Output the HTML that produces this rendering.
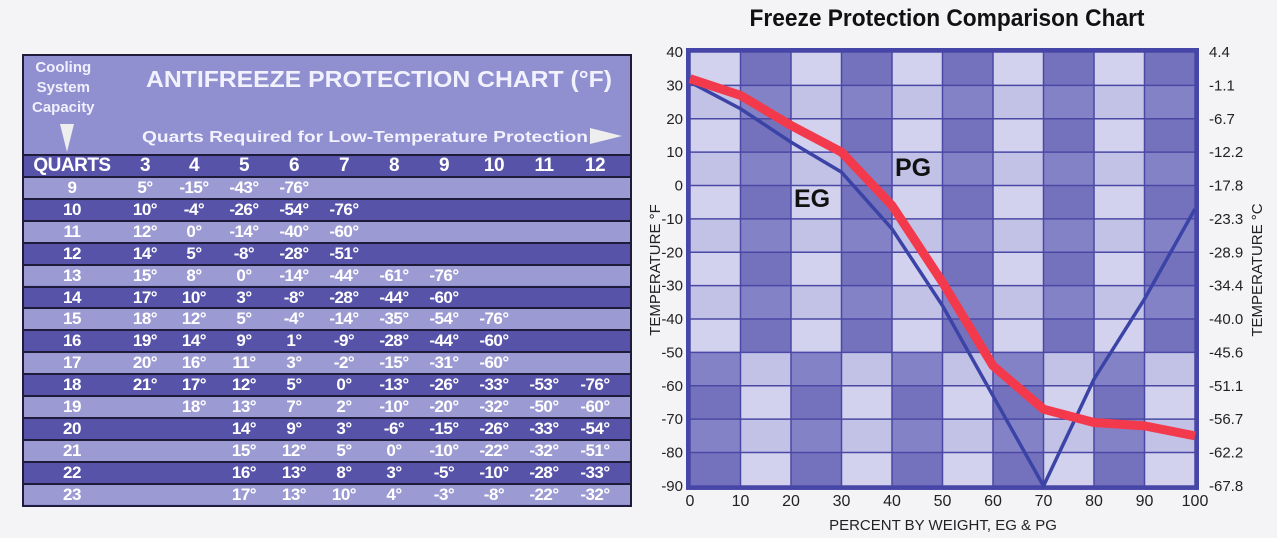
<!DOCTYPE html>
<html><head><meta charset="utf-8"><style>
body{margin:0;width:1277px;height:538px;background:#f4f4f7;overflow:hidden;position:relative;font-family:"Liberation Sans",sans-serif}
#tbl{position:absolute;left:22px;top:54px;width:610px;height:453px;border:2px solid #1e1c3a;background:#908fcf;box-sizing:border-box}
.t{position:absolute;color:#fff;font-weight:bold;white-space:nowrap}
.row{position:absolute;left:0;width:606px;height:20px;border-top:2px solid #1e1c3a}
.cell{position:absolute;top:0;line-height:21px;color:#fff;font-weight:bold;font-size:17px;text-align:center;width:50px;letter-spacing:-0.5px}
</style></head><body>
<div id="tbl">
  <div class="t" style="left:8px;top:2px;font-size:15px;line-height:20px;text-align:center;color:#f0f0ff">Cooling<br>System<br>Capacity</div>
  <div class="t" style="left:36px;top:68px;width:0;height:0;border-left:7px solid transparent;border-right:7px solid transparent;border-top:28px solid #eee"></div>
  <svg class="t" style="left:0;top:0" width="606" height="96">
    <text x="122" y="31" font-size="23" font-weight="bold" fill="#f2f2ff" textLength="466" lengthAdjust="spacingAndGlyphs">ANTIFREEZE PROTECTION CHART (°F)</text>
    <text x="118" y="86" font-size="16" font-weight="bold" fill="#f2f2ff" textLength="446" lengthAdjust="spacingAndGlyphs">Quarts Required for Low-Temperature Protection</text>
  </svg>
  <div class="t" style="left:566px;top:72px;width:0;height:0;border-top:8px solid transparent;border-bottom:8px solid transparent;border-left:32px solid #eee"></div>
  <div id="rows"></div>
</div>

<svg id="chart" width="1277" height="538" style="position:absolute;left:0;top:0"></svg>

<script>
const tblCols=["QUARTS","3","4","5","6","7","8","9","10","11","12"];
const tblRows=[
["9","5°","-15°","-43°","-76°"],
["10","10°","-4°","-26°","-54°","-76°"],
["11","12°","0°","-14°","-40°","-60°"],
["12","14°","5°","-8°","-28°","-51°"],
["13","15°","8°","0°","-14°","-44°","-61°","-76°"],
["14","17°","10°","3°","-8°","-28°","-44°","-60°"],
["15","18°","12°","5°","-4°","-14°","-35°","-54°","-76°"],
["16","19°","14°","9°","1°","-9°","-28°","-44°","-60°"],
["17","20°","16°","11°","3°","-2°","-15°","-31°","-60°"],
["18","21°","17°","12°","5°","0°","-13°","-26°","-33°","-53°","-76°"],
["19","","18°","13°","7°","2°","-10°","-20°","-32°","-50°","-60°"],
["20","","","14°","9°","3°","-6°","-15°","-26°","-33°","-54°"],
["21","","","15°","12°","5°","0°","-10°","-22°","-32°","-51°"],
["22","","","16°","13°","8°","3°","-5°","-10°","-28°","-33°"],
["23","","","17°","13°","10°","4°","-3°","-8°","-22°","-32°"]];
const colX=[48,121,170,220,270,320,370,420,470,520,571];
const rowsEl=document.getElementById('rows');
function mkRow(vals,top,dark,h){
  const r=document.createElement('div');
  
  
  r.className='row';r.style.top=top+'px';r.style.height=h+'px';
  r.style.background=dark?'#5753a8':'#9c9ad2';
  vals.forEach((v,i)=>{
    const c=document.createElement('div');
    
    
    c.className='cell';c.textContent=v;
    const w=i===0?100:54;c.style.width=w+'px';c.style.left=(colX[i]-w/2)+'px';
    c.style.lineHeight=h+'px';
    if(vals===tblCols){c.style.fontSize='19px';}
    r.appendChild(c);
  });
  rowsEl.appendChild(r);
}
mkRow(tblCols,98,true,20);
tblRows.forEach((r,i)=>mkRow(r,120+i*21.9,i%2===1,19.9));

// chart
const xTicks=[0,10,20,30,40,50,60,70,80,90,100];
const yTicks=[40,30,20,10,0,-10,-20,-30,-40,-50,-60,-70,-80,-90];
const cTicks=["4.4","-1.1","-6.7","-12.2","-17.8","-23.3","-28.9","-34.4","-40.0","-45.6","-51.1","-56.7","-62.2","-67.8"];
const egX=[0,10,20,30,40,50,60,70,80,90,100];
const egY=[31,23,13,4,-13,-36,-63,-90,-58,-34,-7];
const pgX=[0,10,20,30,40,50,60,70,80,90,100];
const pgY=[32,27,18,10,-6,-29,-54,-67,-71,-72,-75];
const X=v=>690+v*5.05, Y=v=>52+(40-v)*3.338;
const svg=document.getElementById('chart');const NS='http://www.w3.org/2000/svg';
function el(t,a,txt){const e=document.createElementNS(NS,t);for(const k in a)e.setAttribute(k,a[k]);if(txt!==undefined)e.textContent=txt;svg.appendChild(e);return e;}
for(let i=0;i<10;i++){for(let j=0;j<13;j++){
  const top=yTicks[j],bot=yTicks[j+1];
  const inv=top<=-50;let lightCol=(i%2===0)!==inv;
  const alt=j%2===0;
  const fill=lightCol?(alt?'#d2d2ee':'#c2c1e6'):(alt?'#7472bd':'#8482c6');
  const r=el('rect',{x:X(xTicks[i]),y:Y(top),width:X(xTicks[i+1])-X(xTicks[i]),height:Y(bot)-Y(top),fill});
  
}}
xTicks.forEach(v=>{const l=el('line',{x1:X(v),x2:X(v),y1:Y(40),y2:Y(-90),stroke:'#4a48a4','stroke-width':1.5});
  const t=el('text',{x:X(v),y:506,'text-anchor':'middle','font-size':16,fill:'#222'},v);});
yTicks.forEach((v,i)=>{const l=el('line',{x1:X(0),x2:X(100),y1:Y(v),y2:Y(v),stroke:'#4a48a4','stroke-width':1.5});
  const t=el('text',{x:683,y:Y(v)+5,'text-anchor':'end','font-size':15,fill:'#222'},v);
  const c=el('text',{x:1209,y:Y(v)+5,'font-size':15,fill:'#222'},cTicks[i]);});
const fr=el('rect',{x:X(0)-2,y:Y(40)-2,width:X(100)-X(0)+4,height:Y(-90)-Y(40)+4,fill:'none',stroke:'#4646a8','stroke-width':4});

const eg=el('polyline',{points:egX.map((x,i)=>X(x)+','+Y(egY[i])).join(' '),fill:'none',stroke:'#3b44a6','stroke-width':3.5,'stroke-linejoin':'round'});

const pg=el('polyline',{points:pgX.map((x,i)=>X(x)+','+Y(pgY[i])).join(' '),fill:'none',stroke:'#f23a4c','stroke-width':9,'stroke-linejoin':'round'});

const a=el('text',{x:794,y:207,'font-size':25,'font-weight':'bold',fill:'#111'},'EG');
const b=el('text',{x:895,y:176,'font-size':25,'font-weight':'bold',fill:'#111'},'PG');
const tt=el('text',{x:947,y:26,'text-anchor':'middle','font-size':24,'font-weight':'bold',fill:'#111',textLength:395,lengthAdjust:'spacingAndGlyphs'},'Freeze Protection Comparison Chart');
const xt=el('text',{x:943,y:530,'text-anchor':'middle','font-size':15,fill:'#222'},'PERCENT BY WEIGHT, EG & PG');
const yl=el('text',{x:0,y:0,'text-anchor':'middle','font-size':15,fill:'#222',transform:'translate(660,270) rotate(-90)'},'TEMPERATURE °F');
const yr=el('text',{x:0,y:0,'text-anchor':'middle','font-size':15,fill:'#222',transform:'translate(1262,270) rotate(-90)'},'TEMPERATURE °C');
</script>
</body></html>
